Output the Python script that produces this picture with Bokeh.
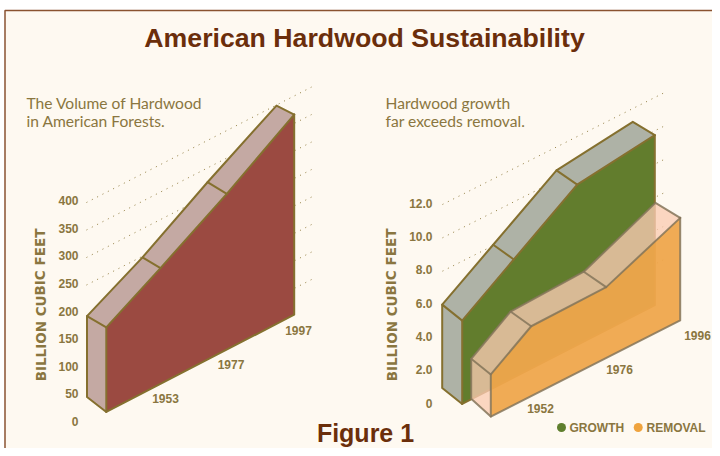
from bokeh.plotting import figure
from bokeh.models import Range1d
from bokeh.core.properties import value
from bokeh.embed import file_html
from bokeh.resources import INLINE

# ---- data
volume_years = ["1953", "1977", "1997"]
volume_values = [193, 248, 324, 399]      # first value: start of the slab
volume_floor = 46
volume_ticks = [0, 50, 100, 150, 200, 250, 300, 350, 400]
volume_grid = [50, 100, 150, 200, 250, 300, 350, 400]

trend_years = ["1952", "1976", "1996"]
growth_values = [6.0, 8.05, 10.6, 11.2]
removal_values = [3.4, 5.04, 5.2, 7.15]
trend_floor = 1.0
trend_ticks = [0.0, 2.0, 4.0, 6.0, 8.0, 10.0, 12.0]
trend_grid = [2.0, 4.0, 6.0, 8.0, 10.0, 12.0]

# ---- layout
CREAM, BORDER = "#FEF9F1", "#8A5230"
OLIVE, TEXT, TITLE = "#85702F", "#8A7640", "#6B2E0B"

p = figure(width=712, height=448, x_range=Range1d(0, 712), y_range=Range1d(448, 0),
           output_backend="svg", toolbar_location=None, min_border=0,
           outline_line_color=None, background_fill_color="white", border_fill_color="white")
p.axis.visible = False
p.xgrid.visible = False
p.ygrid.visible = False

p.quad(left=[4.5], right=[712], top=[10], bottom=[448], fill_color=CREAM, line_color=None)
p.line([4.5, 4.5, 712], [448, 10, 10], line_color=BORDER, line_width=1.5)


class Plane:
    def __init__(self, x0, y0, slope, k):
        self.x0, self.y0, self.slope, self.k = x0, y0, slope, k

    def y(self, x, v):
        return self.y0 - self.slope * (x - self.x0) - v * self.k


def slab(pl, xs, vals, floor, dx, dy, dyb, top_col, front_col, side_col, edge,
         top_a=1.0, front_a=1.0, side_a=1.0, edge_a=1.0, w=2.0):
    bx = xs
    by = [pl.y(x, v) for x, v in zip(xs, vals)]
    fx = [x + d for x, d in zip(xs, dx)]
    fy = [y + d for y, d in zip(by, dy)]
    bb0 = pl.y(xs[0], floor)
    bb1 = pl.y(xs[-1], floor)
    f0 = bb0 + dyb[0]
    f1 = bb1 + dyb[1]
    p.patch(bx + fx[::-1], by + fy[::-1], fill_color=top_col, fill_alpha=top_a, line_color=None)
    p.patch([bx[0], fx[0], fx[0], bx[0]], [by[0], fy[0], f0, bb0],
            fill_color=side_col, fill_alpha=side_a, line_color=None)
    p.patch(fx + [fx[-1], fx[0]], fy + [f1, f0], fill_color=front_col, fill_alpha=front_a, line_color=None)
    st = dict(line_color=edge, line_alpha=edge_a, line_width=w, line_join="round", line_cap="round")
    p.line(bx + [fx[-1]], by + [fy[-1]], **st)
    p.line(fx, fy, **st)
    p.line([fx[0], bx[0], bx[0], fx[0], fx[0]], [fy[0], by[0], bb0, f0, fy[0]], **st)
    p.line([fx[-1], fx[-1], fx[0]], [fy[-1], f1, f0], **st)
    for i in (1, 2):
        p.line([bx[i], fx[i]], [by[i], fy[i]], **st)


def grid(pl, vals, x_start, x_end, hidden_below, x_hidden):
    for v in vals:
        xa = x_start if v >= hidden_below else x_hidden
        p.line([xa, x_end], [pl.y(xa, v), pl.y(x_end, v)], line_color=OLIVE,
               line_width=1, line_dash="1 5", line_alpha=0.9)


def label(x, y, s, size, color=TEXT, align="center", bold=True, font="Liberation Sans", angle=0):
    p.text([x], [y], text=[s], text_font=value(font), text_font_size=f"{size}px",
           text_font_style="bold" if bold else "normal", text_color=color,
           text_align=align, text_baseline="middle", angle=angle)


# ---- left chart
left = Plane(86, 422, 0.513, 0.55)
grid(left, volume_grid, 86, 311, 250, 150)
slab(left, [86.5, 142, 207, 276], volume_values, volume_floor,
     [19.3, 18, 19.3, 17.7], [11.3, 10.7, 11.7, 9], [15, 15],
     "#C4A9A3", "#9B4A41", "#C4A9A3", OLIVE)
for t in volume_ticks:
    label(78, 421 - t * 0.5525, str(t), 12, align="right")
for s, x, y in zip(volume_years, [165, 230.5, 298], [398, 363.5, 330]):
    label(x, y, s, 12)
label(40, 304.5, "BILLION CUBIC FEET", 13.5, angle=1.5708, font="DejaVu Sans")
label(26, 102.5, "The Volume of Hardwood", 15.6, bold=False, font="Lato", align="left")
label(26, 120, "in American Forests.", 15.6, bold=False, font="Lato", align="left")

# ---- right chart
right = Plane(442, 404, 0.504, 16.67)
grid(right, trend_grid, 442, 666, 8.0, 560)
slab(right, [441.7, 492.7, 556, 632.3], growth_values, trend_floor,
     [20, 20.6, 20.7, 22], [16, 14.7, 14.3, 13.3], [16, 13.3],
     "#AEB2A6", "#627D2D", "#AEB2A6", OLIVE)
rem = Plane(470.7, 415, 0.507, 16.67)
slab(rem, [470.7, 510, 583.3, 655], removal_values, trend_floor,
     [19.6, 20.7, 22.4, 24.7], [15.6, 14.7, 15.4, 15], [17.7, 15],
     "#FACCB2", "#EFA64C", "#FACCB2", "#85755A",
     top_a=0.78, front_a=0.95, side_a=0.78, edge_a=0.85)
for t in trend_ticks:
    label(432, 402.7 - t * 16.67, f"{t:.1f}" if t else "0", 12, align="right")
for s, x, y in zip(trend_years, [540, 619, 697], [408, 369, 334.7]):
    label(x, y, s, 12)
label(391, 304.5, "BILLION CUBIC FEET", 13.5, angle=1.5708, font="DejaVu Sans")
label(385, 102.5, "Hardwood growth", 15.6, bold=False, font="Lato", align="left")
label(385, 120, "far exceeds removal.", 15.6, bold=False, font="Lato", align="left")

# ---- legend
p.scatter([561], [427], size=9, fill_color="#5F7F2E", line_color=None)
p.scatter([637.7], [427], size=9, fill_color="#EFA33E", line_color=None)
label(569, 427.5, "GROWTH", 12, align="left")
label(646, 427.5, "REMOVAL", 12, align="left")

# ---- titles
label(364, 37.5, "American Hardwood Sustainability", 26.7, color=TITLE)
label(365, 432.5, "Figure 1", 25, color=TITLE)

open("out.html", "w").write(file_html(p, INLINE))
